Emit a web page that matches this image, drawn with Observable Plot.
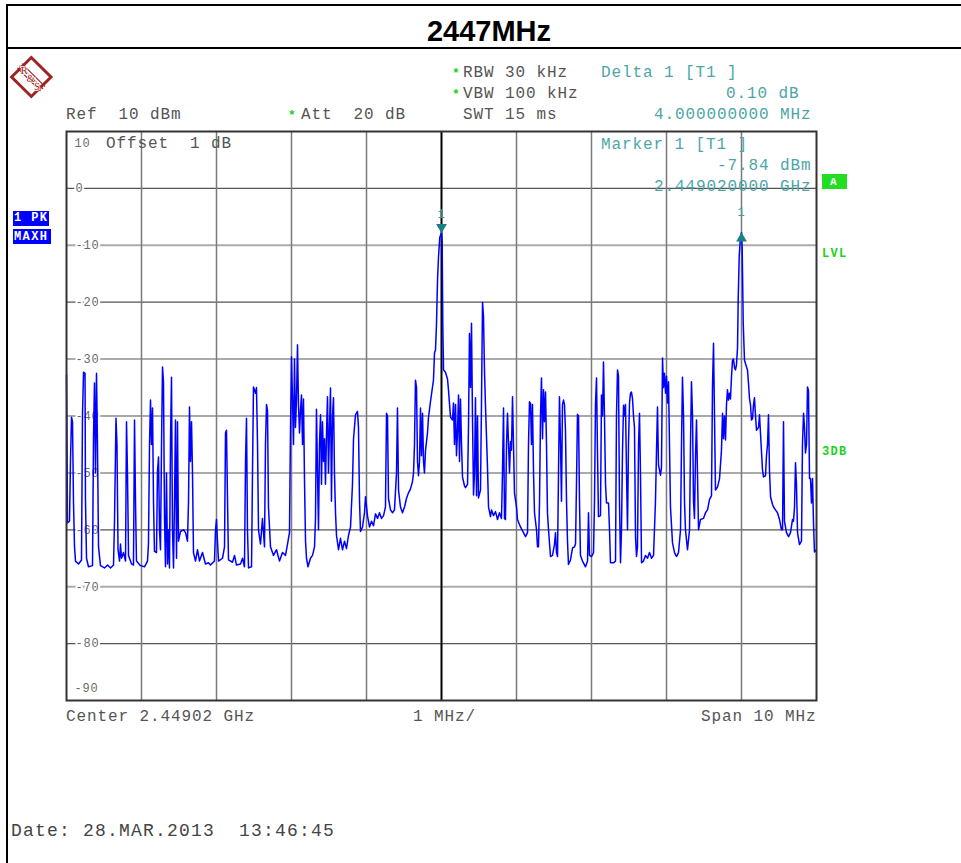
<!DOCTYPE html>
<html>
<head>
<meta charset="utf-8">
<script src="https://cdn.jsdelivr.net/npm/d3@7"></script>
<script src="https://cdn.jsdelivr.net/npm/@observablehq/plot@0.6"></script>
<style>
  html, body { margin: 0; padding: 0; background: #fff; overflow: hidden; }
  #page { position: relative; width: 961px; height: 863px; overflow: hidden; background: #fff; }
  #chart { position: absolute; left: 0; top: 0; }
  .line { position: absolute; background: #000; }
</style>
</head>
<body>
<div id="page">
  <div id="chart"></div>
</div>
<script>
// ---------------- data ----------------
const titleText = "2447MHz";
// level gridlines (dBm) and their labels
const gridLevels = [0, -10, -20, -30, -40, -50, -60, -70, -80];
const gridLabels = ["0", "-10", "-20", "-30", "-40", "-50", "-60", "-70", "-80"];
const topLevel = 10, bottomLevel = -90;
// frequency divisions, MHz from centre (1 MHz/div, span 10 MHz)
const freqDivisions = [-4, -3, -2, -1, 1, 2, 3, 4];
const centerFreq = [0];
// markers: [MHz from centre, dBm]
const marker1 = [0, -7.84];
const delta1 = [4, -7.74];
// max-hold trace: [MHz from centre 2.44902 GHz, level dBm]
const trace = [
[-5.000,-32.8],[-4.993,-45],[-4.987,-58.8],[-4.960,-58.5],[-4.947,-48],[-4.933,-40.2],[-4.920,-41],[-4.907,-55],[-4.893,-63],[-4.880,-65.5],[-4.840,-66],[-4.800,-65.3],[-4.787,-40],[-4.773,-32.3],[-4.753,-32.5],[-4.747,-54.7],[-4.733,-65],[-4.707,-66.5],[-4.653,-66.3],[-4.640,-44],[-4.627,-34.2],[-4.613,-50],[-4.600,-32.5],[-4.587,-45],[-4.573,-63],[-4.547,-66.3],
[-4.493,-66.7],[-4.453,-66.2],[-4.413,-66.7],[-4.373,-66.2],[-4.360,-58.5],[-4.340,-40.4],[-4.327,-45],[-4.313,-63.5],[-4.293,-65.5],[-4.280,-62.5],[-4.267,-65],[-4.240,-64],[-4.213,-65.5],[-4.200,-41],[-4.187,-50],[-4.173,-64.5],[-4.133,-66],[-4.107,-66.2],[-4.093,-40.7],[-4.080,-55],[-4.067,-65.5],[-4.013,-66.3],[-3.960,-66.5],[-3.920,-65.5],[-3.907,-62.5],[-3.893,-45],[-3.880,-37.2],[-3.867,-45],[-3.853,-38.6],[-3.840,-55],[-3.827,-63.8],[-3.800,-64],[-3.787,-49.8],[-3.773,-47.2],[-3.760,-60],[-3.747,-63.5],[-3.733,-45],[-3.720,-31.4],[-3.707,-34],[-3.693,-58],[-3.680,-66.5],[-3.667,-50],[-3.653,-66],[-3.640,-60],[-3.627,-66.7],[-3.613,-44],[-3.600,-33.2],[-3.587,-60],[-3.573,-66.7],[-3.560,-55],[-3.547,-40.7],[-3.533,-65],[-3.520,-41],[-3.507,-62],[-3.480,-60.3],[-3.440,-60],[-3.413,-60.5],[-3.387,-62],[-3.373,-55],[-3.360,-38.4],[-3.347,-48],[-3.333,-41],[-3.320,-50],[-3.307,-64],[-3.280,-65.5],[-3.253,-63.5],[-3.227,-65.5],[-3.187,-64],[-3.147,-66],[-3.107,-65.8],[-3.080,-66.2],[-3.027,-65.5],[-3.013,-60],[-3.000,-58.2],[-2.987,-62],[-2.973,-65.5],[-2.920,-65],[-2.893,-63],[-2.880,-43],[-2.867,-42.5],[-2.853,-55],[-2.840,-65.3],[-2.787,-65.7],[-2.760,-64.5],[-2.733,-66.2],[-2.680,-66],[-2.653,-65],[-2.627,-66.5],[-2.613,-48],[-2.600,-40.4],[-2.587,-60],[-2.573,-66.7],[-2.533,-66.5],[-2.520,-50],[-2.507,-34.9],[-2.480,-36],[-2.467,-35],[-2.453,-45],[-2.440,-60],[-2.413,-62.5],[-2.387,-58],[-2.360,-63],[-2.347,-45],[-2.333,-38],[-2.320,-39],[-2.307,-56],[-2.280,-63],[-2.240,-64.5],[-2.200,-63.5],[-2.160,-65.5],[-2.120,-64],[-2.080,-64.5],[-2.053,-62.5],[-2.027,-60.5],[-2.013,-42],[-2.000,-29.6],[-1.987,-37],[-1.973,-45],[-1.960,-30],[-1.947,-42],[-1.933,-37],[-1.920,-27.5],[-1.907,-38],[-1.893,-43],[-1.880,-39],[-1.867,-36.3],[-1.853,-45],[-1.840,-37],[-1.827,-51],[-1.813,-62],[-1.800,-65],[-1.780,-66.5],[-1.747,-65],[-1.720,-64.5],[-1.693,-63],[-1.680,-58],[-1.667,-38.8],[-1.653,-50],[-1.640,-60],[-1.627,-45],[-1.613,-39.8],[-1.600,-52],[-1.587,-41],[-1.573,-48],[-1.560,-44],[-1.547,-52],[-1.533,-43],[-1.520,-36.6],[-1.507,-50],[-1.493,-42],[-1.480,-35.1],[-1.467,-55],[-1.453,-40],[-1.440,-36.8],[-1.427,-50],[-1.413,-57],[-1.400,-61],[-1.373,-63.5],[-1.347,-61.5],[-1.320,-63.5],[-1.293,-62],[-1.267,-63.3],[-1.240,-61],[-1.213,-59.5],[-1.187,-52],[-1.173,-44],[-1.147,-39.8],[-1.120,-39.2],[-1.107,-42],[-1.093,-55],[-1.080,-60.3],[-1.053,-59.5],[-1.027,-57],[-1.013,-54.2],[-0.987,-57.5],[-0.960,-59.5],[-0.933,-58.5],[-0.907,-59.3],[-0.880,-57.2],[-0.853,-58],[-0.827,-57],[-0.800,-58],[-0.773,-57.5],[-0.747,-56],[-0.733,-39.5],[-0.720,-40],[-0.707,-54.5],[-0.680,-56.5],[-0.653,-57],[-0.627,-56.5],[-0.600,-50],[-0.587,-38.6],[-0.573,-53],[-0.547,-56],[-0.520,-57],[-0.493,-56],[-0.467,-54.5],[-0.440,-53.5],[-0.413,-52.8],[-0.387,-51.5],[-0.373,-50],[-0.360,-45],[-0.347,-33.7],[-0.333,-35],[-0.320,-48],[-0.307,-50.5],[-0.293,-48],[-0.280,-38.6],[-0.267,-47],[-0.253,-39.5],[-0.240,-48],[-0.227,-50],[-0.213,-46],[-0.187,-43],[-0.173,-40.2],[-0.147,-37.5],[-0.120,-34.9],[-0.107,-33.7],[-0.093,-28.9],[-0.080,-28.4],[-0.067,-24],[-0.053,-16.1],[-0.040,-12.1],[-0.023,-8.6],[0.000,-7.84],[0.009,-9.5],[0.017,-23.7],[0.027,-31.9],[0.053,-32.3],[0.080,-33.5],[0.093,-35.4],[0.120,-40.2],[0.147,-40.7],[0.160,-37.7],[0.173,-45],[0.187,-38],[0.200,-47],[0.213,-43],[0.227,-36.3],[0.240,-48],[0.253,-37],[0.267,-45],[0.280,-50.7],[0.307,-52.3],[0.320,-52.6],[0.347,-52],[0.360,-42],[0.373,-25.5],[0.387,-35],[0.400,-23.7],[0.413,-40],[0.427,-53.9],[0.440,-50],[0.453,-36.8],[0.467,-54],[0.480,-40],[0.493,-54.4],[0.520,-53],[0.533,-38],[0.547,-20],[0.560,-22.5],[0.573,-32],[0.587,-38.4],[0.613,-48.9],[0.627,-56],[0.653,-57.7],[0.667,-56.5],[0.693,-57.5],[0.720,-56.8],[0.747,-58.2],[0.773,-57],[0.800,-58],[0.813,-50],[0.827,-38.6],[0.840,-58],[0.853,-58.2],[0.867,-45],[0.880,-39.5],[0.893,-44.7],[0.907,-50],[0.920,-44.5],[0.933,-46],[0.947,-36.6],[0.960,-45],[0.973,-53.5],[1.000,-56],[1.013,-58.2],[1.053,-59.5],[1.093,-60.5],[1.120,-61.2],[1.147,-60.5],[1.160,-45],[1.173,-37.5],[1.187,-37.8],[1.200,-45],[1.213,-38],[1.227,-50],[1.240,-57],[1.267,-60],[1.280,-63],[1.293,-63],[1.307,-55],[1.320,-40],[1.333,-33.3],[1.347,-44],[1.360,-35.4],[1.373,-41],[1.387,-35.8],[1.400,-45],[1.413,-57],[1.427,-60],[1.453,-64.7],[1.480,-64.5],[1.507,-62.5],[1.520,-60.5],[1.533,-64],[1.547,-64.7],[1.560,-50],[1.573,-36.6],[1.587,-45],[1.600,-55],[1.613,-38],[1.627,-37.2],[1.640,-38],[1.653,-42.5],[1.667,-55],[1.680,-62],[1.693,-66.1],[1.720,-65.3],[1.747,-63.2],[1.773,-63],[1.787,-62.5],[1.800,-51.8],[1.813,-39.7],[1.827,-40],[1.840,-55],[1.853,-64.5],[1.880,-65.5],[1.920,-66.5],[1.947,-65.5],[1.960,-57],[1.973,-64.5],[2.000,-64.7],[2.027,-64],[2.040,-55],[2.053,-38],[2.067,-33.3],[2.080,-46.5],[2.093,-57.7],[2.120,-57.5],[2.133,-36.3],[2.147,-40],[2.160,-30.5],[2.173,-40],[2.187,-52],[2.200,-55.3],[2.227,-55.3],[2.240,-60],[2.253,-65.8],[2.293,-65.8],[2.320,-65.5],[2.333,-40],[2.347,-31.9],[2.360,-33],[2.373,-55],[2.387,-65.8],[2.400,-60],[2.413,-46.5],[2.427,-38.1],[2.440,-40],[2.453,-38],[2.467,-50],[2.480,-60],[2.493,-45],[2.507,-37.7],[2.520,-36],[2.533,-35.8],[2.547,-37],[2.560,-40],[2.573,-42],[2.587,-61.2],[2.600,-64.7],[2.613,-63],[2.627,-45],[2.640,-39.5],[2.653,-50],[2.667,-65.8],[2.693,-65.5],[2.720,-64.5],[2.747,-65],[2.773,-64],[2.800,-65],[2.827,-64.5],[2.853,-55],[2.867,-46],[2.880,-38.4],[2.893,-48.6],[2.920,-50.4],[2.933,-49],[2.947,-29.8],[2.960,-35],[2.973,-32.5],[2.987,-36],[3.000,-33],[3.013,-37.7],[3.027,-34],[3.040,-45],[3.053,-56],[3.080,-62.3],[3.107,-64],[3.133,-64.7],[3.160,-64],[3.187,-60],[3.200,-45],[3.213,-33.2],[3.227,-40],[3.240,-55],[3.253,-60],[3.280,-63.5],[3.307,-60],[3.320,-45],[3.333,-34],[3.347,-40],[3.360,-55],[3.373,-58],[3.387,-47],[3.400,-40.7],[3.413,-50],[3.427,-60],[3.453,-58.2],[3.493,-58],[3.520,-57],[3.547,-56.5],[3.573,-54.7],[3.600,-54],[3.613,-35],[3.627,-27.2],[3.640,-40],[3.653,-53],[3.680,-52.5],[3.707,-51],[3.733,-46],[3.747,-39.5],[3.760,-44],[3.773,-40],[3.787,-44.2],[3.800,-38],[3.813,-35.4],[3.827,-37.2],[3.840,-36],[3.853,-37],[3.867,-33],[3.880,-30.2],[3.893,-30],[3.907,-31.5],[3.920,-31.9],[3.933,-31],[3.947,-28],[3.956,-19.6],[3.969,-12.1],[3.983,-9.1],[4.000,-7.74],[4.009,-10.4],[4.023,-23.7],[4.040,-30.2],[4.067,-31.4],[4.080,-31.9],[4.093,-34.2],[4.107,-37],[4.120,-38],[4.133,-40.7],[4.147,-40.5],[4.160,-38],[4.173,-36.8],[4.187,-40],[4.200,-42.5],[4.227,-42],[4.240,-39.8],[4.253,-43],[4.280,-49.5],[4.293,-50.7],[4.320,-50.5],[4.333,-47],[4.347,-45],[4.360,-39.8],[4.373,-49.5],[4.387,-54.2],[4.413,-55.5],[4.427,-56],[4.453,-56.5],[4.480,-57],[4.507,-58.2],[4.533,-60],[4.547,-60],[4.560,-41],[4.573,-58.5],[4.600,-60.5],[4.627,-61.2],[4.653,-60.5],[4.680,-58.2],[4.693,-58.5],[4.707,-56],[4.720,-48.2],[4.733,-52],[4.747,-60.5],[4.773,-62.6],[4.800,-62],[4.813,-45],[4.827,-39.5],[4.840,-42],[4.853,-46.5],[4.867,-45],[4.880,-34.9],[4.893,-35.5],[4.907,-51],[4.920,-51],[4.933,-55.3],[4.947,-51],[4.960,-58.8],[4.973,-63.9],[5.000,-63.5]
];

// ---------------- chart ----------------
const traceData = trace.map(([f, l]) => ({f, l}));
const levelData = gridLevels.map((v, i) => ({v, t: gridLabels[i], dark: i % 2 === 0}));
const mono = "'Liberation Mono','Courier New',monospace";
const teal = "#4ca6a6";

const chart = Plot.plot({
  width: 961,
  height: 863,
  marginLeft: 66,
  marginRight: 145,
  marginTop: 131,
  marginBottom: 163,
  x: {domain: [-5, 5], axis: null},
  y: {domain: [bottomLevel, topLevel], axis: null},
  style: "background: transparent; letter-spacing: 0.8px; font-family: " + mono + ";",
  marks: [
    Plot.ruleY(levelData.filter(d => !d.dark), {y: "v", stroke: "#ababab", strokeWidth: 2}),
    Plot.ruleY(levelData.filter(d => d.dark), {y: "v", stroke: "#555", strokeWidth: 1.2}),
    Plot.ruleX(freqDivisions, {stroke: "#7a7a7a", strokeWidth: 1.5}),
    Plot.ruleX(centerFreq, {stroke: "#000", strokeWidth: 2}),
    Plot.text(levelData, {x: -5, y: "v", text: "t", dx: 9, textAnchor: "start", fill: "#6a6a6a",
      stroke: "white", strokeWidth: 4, paintOrder: "stroke", fontSize: 12, fontFamily: mono}),
    Plot.text([{v: topLevel, t: String(topLevel)}], {x: -5, y: "v", text: "t", dx: 8, dy: 12, textAnchor: "start",
      fill: "#6a6a6a", fontSize: 12, fontFamily: mono}),
    Plot.text([{v: bottomLevel, t: String(bottomLevel)}], {x: -5, y: "v", text: "t", dx: 8, dy: -12, textAnchor: "start",
      fill: "#6a6a6a", fontSize: 12, fontFamily: mono}),
    Plot.line(traceData, {x: "f", y: "l", stroke: "#0000ff", strokeWidth: 1.5}),
    Plot.frame({stroke: "#333", strokeWidth: 2}),
    Plot.dot([marker1], {x: d => d[0], y: d => d[1], symbol: "triangle", r: 4, fill: "#1a7f7f", rotate: 180, dy: -6}),
    Plot.dot([delta1], {x: d => d[0], y: d => d[1], symbol: "triangle", r: 4, fill: "#1a7f7f", dy: 6}),
    Plot.text([marker1], {x: d => d[0], y: d => d[1], text: () => "1", dy: -19, fill: "#3d9a9a", fontSize: 12, fontFamily: mono}),
    Plot.text([delta1], {x: d => d[0], y: d => d[1], text: () => "1", dy: -20, fill: "#3d9a9a", fontSize: 12, fontFamily: mono})
  ]
});
document.getElementById("chart").appendChild(chart);

// ---------------- page furniture ----------------
const page = document.getElementById("page");
function box(x, y, w, h, bg) {
  const el = document.createElement("div");
  el.className = "line";
  el.style.left = x + "px"; el.style.top = y + "px";
  el.style.width = w + "px"; el.style.height = h + "px";
  if (bg) el.style.background = bg;
  page.appendChild(el);
  return el;
}
function label(txt, x, baseline, opt = {}) {
  const fs = opt.size || 16;
  const el = document.createElement("div");
  el.textContent = txt;
  el.style.cssText = `position:absolute;left:${x}px;top:${baseline - 0.767 * fs}px;` +
    `font-family:${opt.family || mono};font-size:${fs}px;font-weight:${opt.weight || "normal"};` +
    `line-height:1;white-space:pre;letter-spacing:${opt.ls ?? 0.9}px;color:${opt.color || "#555"}`;
  page.appendChild(el);
  return el;
}

// borders
box(6, 4, 955, 2);
box(6, 47, 955, 2);
box(6, 4, 2, 859);

// title
const t = document.createElement("div");
t.textContent = titleText;
t.style.cssText = "position:absolute;left:389px;width:200px;text-align:center;top:17.2px;" +
  "font-family:'Liberation Sans',Arial,sans-serif;font-weight:bold;font-size:29px;line-height:1;color:#000";
page.appendChild(t);

// header
const green = "#19d319";
label("*", 452, 77, {size: 13, weight: "bold", color: green, ls: 0});
label("RBW 30 kHz", 463, 77);
label("*", 452, 98, {size: 13, weight: "bold", color: green, ls: 0});
label("VBW 100 kHz", 463, 98);
label("SWT 15 ms", 463, 119);
label("Ref  10 dBm", 66, 119);
label("*", 288, 119, {size: 13, weight: "bold", color: green, ls: 0});
label("Att  20 dB", 301, 119);
label("Delta 1 [T1 ]", 601, 77, {color: teal});
label("0.10 dB", 726, 98, {color: teal});
label("4.000000000 MHz", 654, 119, {color: teal});
label("Marker 1 [T1 ]", 601, 149, {color: teal});
label("-7.84 dBm", 717, 170, {color: teal});
label("2.449020000 GHz", 654, 191, {color: teal});
label("Offset  1 dB", 106, 148);

// footer
label("Center 2.44902 GHz", 66, 721);
label("1 MHz/", 413, 721);
label("Span 10 MHz", 701, 721);
label("Date: 28.MAR.2013  13:46:45", 11, 836, {size: 18, ls: 1.2, color: "#444"});

// right-side indicators
box(822, 174, 25, 14.5, "#22dd22");
label("A", 830, 185.5, {size: 11, weight: "bold", color: "#fff", ls: 0});
label("LVL", 822, 257.5, {size: 12, weight: "bold", color: green, ls: 1.3});
label("3DB", 822, 455, {size: 12, weight: "bold", color: green, ls: 1.3});

// left trace indicators
box(13, 211, 36, 14.5, "#0000ff");
label("1 PK", 14, 221.7, {size: 12, weight: "bold", color: "#fff", ls: 1.4});
box(13, 229, 37.5, 15, "#0000ff");
label("MAXH", 14, 240.7, {size: 12, weight: "bold", color: "#fff", ls: 1.4});

// R&S logo
const ns = "http://www.w3.org/2000/svg";
const logo = document.createElementNS(ns, "svg");
logo.setAttribute("width", "60"); logo.setAttribute("height", "110");
logo.style.cssText = "position:absolute;left:0;top:0";
logo.innerHTML =
  '<polygon points="31.3,57.5 51,77 31.3,96.5 11.6,77" fill="#fff" stroke="#9e2424" stroke-width="3"/>' +
  '<g stroke="#9e2424" stroke-width="1.3">' +
  '<line x1="19.6" y1="65.6" x2="42.9" y2="88.9"/>' +
  '<line x1="22.0" y1="63.6" x2="45.0" y2="86.6"/>' +
  '<line x1="17.5" y1="68.0" x2="40.5" y2="91.0"/>' +
  '</g>' +
  '<g font-family="Liberation Serif,serif" font-size="11" fill="#9e2424" stroke="#fff" stroke-width="1.6" paint-order="stroke">' +
  '<text x="20.5" y="74">R</text><text x="26.5" y="82">&amp;</text><text x="34" y="90">S</text></g>';
page.appendChild(logo);
</script>
</body>
</html>
